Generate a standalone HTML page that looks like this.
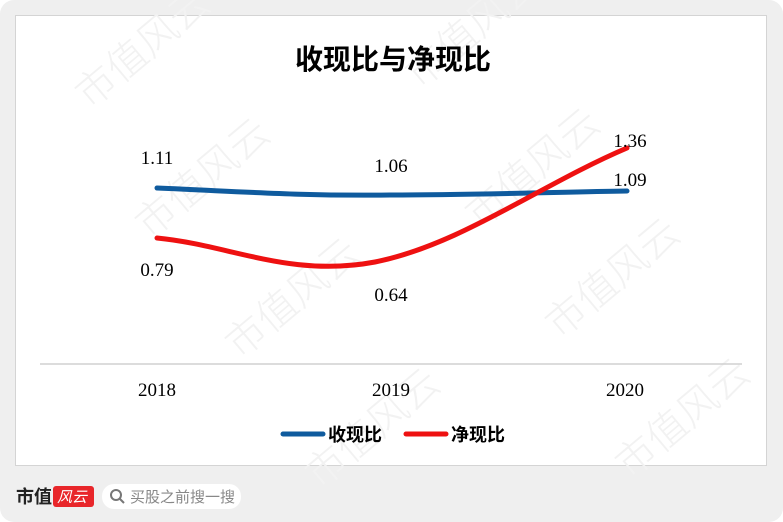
<!DOCTYPE html>
<html><head><meta charset="utf-8"><style>
body{margin:0;width:783px;height:522px;background:#fff;overflow:hidden;font-family:"Liberation Sans","Noto Sans CJK SC",sans-serif}
.bg{position:absolute;left:0;top:0;width:783px;height:522px;background:#efefef;border-radius:14px}
.panel{position:absolute;left:15px;top:15px;width:750px;height:449px;background:#fff;border:1.5px solid #d4d4d4}
</style></head><body>
<div class="bg"></div>
<div class="panel"></div>
<svg width="783" height="522" style="position:absolute;left:0;top:0">
<g fill="#f2f2f2" font-size="40" font-weight="300" font-family="Noto Sans CJK SC,sans-serif">
<text transform="translate(90,110) rotate(-40)">市值风云</text>
<text transform="translate(420,90) rotate(-40)">市值风云</text>
<text transform="translate(150,240) rotate(-40)">市值风云</text>
<text transform="translate(480,230) rotate(-40)">市值风云</text>
<text transform="translate(240,360) rotate(-40)">市值风云</text>
<text transform="translate(560,340) rotate(-40)">市值风云</text>
<text transform="translate(320,490) rotate(-40)">市值风云</text>
<text transform="translate(630,480) rotate(-40)">市值风云</text>
</g>
<text x="393" y="69" text-anchor="middle" font-size="28" font-weight="bold" font-family="Noto Sans CJK SC,sans-serif" fill="#000">收现比与净现比</text>
<line x1="40" y1="364" x2="742" y2="364" stroke="#d0d0d0" stroke-width="1.5"/>
<path d="M157,188 C250,192 300,196 390,195 C480,195 560,192 627,191" fill="none" stroke="#0f5b9e" stroke-width="5" stroke-linecap="round"/>
<path d="M157,238 C230,245 290,278 375,262 C460,245 540,185 627,148" fill="none" stroke="#ee1111" stroke-width="5" stroke-linecap="round"/>
<g font-family="Liberation Serif,serif" font-size="19" fill="#000" text-anchor="middle">
<text x="157" y="164">1.11</text>
<text x="391" y="172">1.06</text>
<text x="630" y="186">1.09</text>
<text x="157" y="276">0.79</text>
<text x="391" y="301">0.64</text>
<text x="630" y="147">1.36</text>
<text x="157" y="396">2018</text>
<text x="391" y="396">2019</text>
<text x="625" y="396">2020</text>
</g>
<line x1="283" y1="434" x2="323" y2="434" stroke="#0f5b9e" stroke-width="5" stroke-linecap="round"/>
<text x="328" y="441" font-size="18" font-weight="bold" font-family="Noto Sans CJK SC,sans-serif">收现比</text>
<line x1="406" y1="434" x2="446" y2="434" stroke="#ee1111" stroke-width="5" stroke-linecap="round"/>
<text x="451" y="441" font-size="18" font-weight="bold" font-family="Noto Sans CJK SC,sans-serif">净现比</text>
<text x="16" y="503" font-size="18" font-weight="bold" font-family="Noto Sans CJK SC,sans-serif" fill="#222">市值</text>
<rect x="53" y="486" width="41" height="21" rx="3" fill="#e8262a"/>
<text x="57" y="502" font-size="15" font-style="italic" fill="#fff" font-family="Noto Sans CJK SC,sans-serif">风云</text>
<rect x="102" y="484" width="139" height="25" rx="12" fill="#fff"/>
<circle cx="116" cy="495" r="5" fill="none" stroke="#777" stroke-width="2"/>
<line x1="120" y1="499" x2="124" y2="503" stroke="#777" stroke-width="2"/>
<text x="130" y="502" font-size="15" fill="#888" font-family="Noto Sans CJK SC,sans-serif">买股之前搜一搜</text>
</svg>
</body></html>
